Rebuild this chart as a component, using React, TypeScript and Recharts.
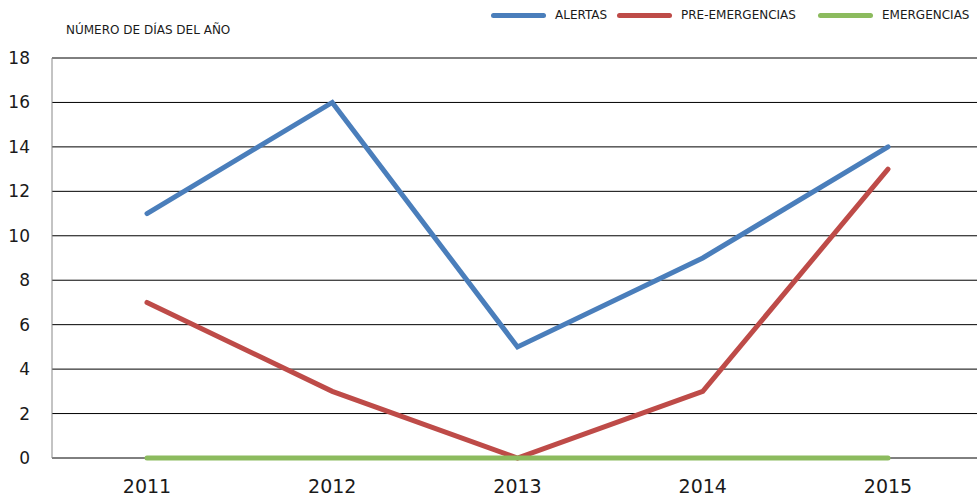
import React from 'react';
import { LineChart, Line, XAxis, YAxis, CartesianGrid } from 'recharts';

const years = ['2011', '2012', '2013', '2014', '2015'];
const alertas = [11, 16, 5, 9, 14];
const preEmergencias = [7, 3, 0, 3, 13];
const emergencias = [0, 0, 0, 0, 0];
const yTicks = [0, 2, 4, 6, 8, 10, 12, 14, 16, 18];

const data = years.map((year, i) => ({
  year,
  alertas: alertas[i],
  pre: preEmergencias[i],
  emer: emergencias[i],
}));

const FONT = '"DejaVu Sans", sans-serif';

const legendItems = [
  { label: 'ALERTAS', color: '#4a7ebb', left: 491 },
  { label: 'PRE-EMERGENCIAS', color: '#be4b48', left: 617 },
  { label: 'EMERGENCIAS', color: '#8cbb5e', left: 818 },
];

const App: React.FC = () => {
  return (
    <div style={{ position: 'absolute', left: 0, top: 0, width: 977, height: 498, background: '#fff', fontFamily: FONT }}>
      <LineChart width={977} height={498} data={data} margin={{ top: 58, right: 0, bottom: 0, left: 0 }}>
        {/* grid line at 0 doubles as the x axis, so the green series sits on top of it */}
        <CartesianGrid vertical={false} stroke="#000" strokeWidth={1} />
        <XAxis
          dataKey="year"
          height={40}
          padding={{ left: 95, right: 89 }}
          axisLine={false}
          tickLine={false}
          tickSize={0}
          tickMargin={22}
          tick={{ fill: '#1a1a1a', fontSize: 19, fontFamily: FONT }}
        />
        <YAxis
          domain={[0, 18]}
          ticks={yTicks}
          width={52}
          axisLine={{ stroke: '#888' }}
          tickLine={false}
          tickSize={0}
          tickMargin={22}
          tick={{ fill: '#1a1a1a', fontSize: 17, fontFamily: FONT }}
        />
        <Line dataKey="alertas" type="linear" stroke="#4a7ebb" strokeWidth={5} strokeLinecap="round" dot={false} isAnimationActive={false} />
        <Line dataKey="pre" type="linear" stroke="#be4b48" strokeWidth={5} strokeLinecap="round" dot={false} isAnimationActive={false} />
        <Line dataKey="emer" type="linear" stroke="#8cbb5e" strokeWidth={5} strokeLinecap="round" dot={false} isAnimationActive={false} />
      </LineChart>

      {/* axis title */}
      <div style={{ position: 'absolute', left: 66, top: 23, fontSize: 12, color: '#1a1a1a' }}>
        NÚMERO DE DÍAS DEL AÑO
      </div>

      {/* legend */}
      {legendItems.map((item) => (
        <div key={item.label} style={{ position: 'absolute', left: item.left, top: 8, display: 'flex', alignItems: 'center' }}>
          <div style={{ width: 55, height: 5, borderRadius: 3, background: item.color }} />
          <span style={{ marginLeft: 9, fontSize: 12, color: '#1a1a1a' }}>{item.label}</span>
        </div>
      ))}
    </div>
  );
};

export default App;
